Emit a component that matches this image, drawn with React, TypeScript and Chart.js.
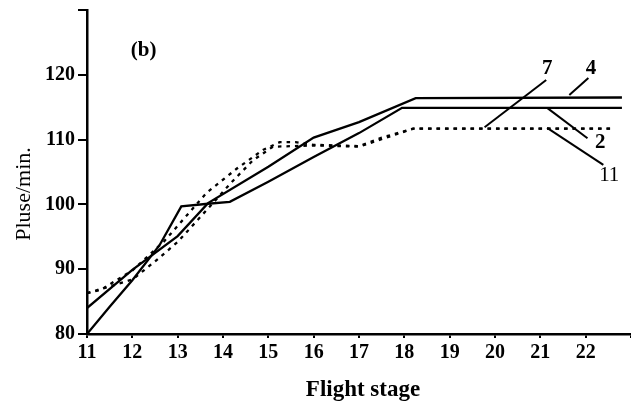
import { useEffect, useRef } from 'react';
import { Chart, registerables } from 'chart.js';

Chart.register(...registerables);

// Flight stages (x) and pulse rates (y) for each subject
const stages4 = [11, 12, 13, 13.67, 15, 16, 17, 18.25, 22.8];
const pulse4 = [84, 89.9, 95.1, 100.2, 105.8, 110.3, 112.7, 116.4, 116.5];

const stages2 = [11, 11.5, 12, 12.6, 13.08, 13.67, 14.15, 15, 16, 17, 17.95, 22.8];
const pulse2 = [80, 84.2, 88.3, 93.7, 99.7, 100.1, 100.4, 103.5, 107.3, 111, 114.9, 114.9];

const stages7 = [11, 12, 12.5, 13, 13.7, 14.2, 14.66, 15.1, 16, 17, 18.2, 22.6];
const pulse7 = [86.3, 88.4, 91.2, 94.2, 99.6, 103.5, 106.8, 108.9, 109.1, 108.9, 111.7, 111.7];

const stages11 = [11, 11.3, 12, 12.7, 13.64, 14.3, 14.88, 15.25, 15.6, 16, 17, 17.5, 18.2, 22.6];
const pulse11 = [86.3, 86.8, 89.8, 94.3, 101.8, 105.5, 108.4, 109.6, 109.6, 109.2, 109, 110.3, 111.7, 111.7];

// Series labels with leader lines (data coordinates)
const seriesNames = ['7', '4', '2', '11'];
const leaderFromX = [19.77, 21.64, 21.15, 21.15];
const leaderFromY = [111.9, 116.9, 114.9, 111.8];
const leaderToX = [21.13, 22.06, 22.04, 22.39];
const leaderToY = [119.2, 119.5, 110.2, 106.1];
const labelX = [21.15, 22.12, 22.32, 22.52];
const labelY = [121.0, 120.9, 109.6, 104.5];

const panelLabel = '(b)';
const panelX = 12.25;
const panelY = 123.8;

const xTitle = 'Flight stage';
const yTitle = 'Pluse/min.';

const xMin = 11;
const xMax = 23;
const yMin = 80;
const yMax = 130;

const pts = (xs: number[], ys: number[]) => xs.map((x, i) => ({ x, y: ys[i] }));

const SERIF = '"Liberation Serif", "DejaVu Serif", serif';

const textPlugin = {
  id: 'texts',
  afterDraw(chart: any) {
    const { ctx, scales, chartArea } = chart;
    const xs = scales.x;
    const ys = scales.y;
    ctx.save();
    ctx.fillStyle = '#000';
    ctx.textAlign = 'center';
    ctx.textBaseline = 'middle';
    ctx.font = `bold 21px ${SERIF}`;
    ctx.fillText(panelLabel, xs.getPixelForValue(panelX), ys.getPixelForValue(panelY));
    seriesNames.forEach((n, i) => {
      ctx.font = i === 3 ? `21px ${SERIF}` : `bold 21px ${SERIF}`;
      ctx.fillText(n, xs.getPixelForValue(labelX[i]), ys.getPixelForValue(labelY[i]));
    });
    ctx.textBaseline = 'alphabetic';
    ctx.font = `bold 23px ${SERIF}`;
    ctx.fillText(xTitle, (chartArea.left + chartArea.right) / 2 + 4, 396);
    ctx.translate(30, 194);
    ctx.rotate(-Math.PI / 2);
    ctx.font = `22px ${SERIF}`;
    ctx.fillText(yTitle, 0, 0);
    ctx.restore();
  },
};

export default function App() {
  const ref = useRef<HTMLCanvasElement | null>(null);
  useEffect(() => {
    document.body.style.margin = '0';
    const canvas = ref.current;
    if (!canvas) return;
    const solid = { borderColor: '#000', borderWidth: 2.3, pointRadius: 0, tension: 0, fill: false };
    const dotted = { ...solid, borderDash: [3.5, 5] };
    const leaders = seriesNames.map((n, i) => ({
      ...solid,
      label: 'leader ' + n,
      borderWidth: 2,
      data: [
        { x: leaderFromX[i], y: leaderFromY[i] },
        { x: leaderToX[i], y: leaderToY[i] },
      ],
    }));
    const chart = new Chart(canvas, {
      type: 'line',
      data: {
        datasets: [
          { ...solid, label: '4', data: pts(stages4, pulse4) },
          { ...solid, label: '2', data: pts(stages2, pulse2) },
          { ...dotted, label: '7', data: pts(stages7, pulse7) },
          { ...dotted, label: '11', data: pts(stages11, pulse11) },
          ...leaders,
        ],
      },
      options: {
        animation: false,
        responsive: false,
        layout: { padding: { top: 10, left: 0, right: 0, bottom: 0 } },
        plugins: { legend: { display: false }, tooltip: { enabled: false } },
        scales: {
          x: {
            type: 'linear',
            min: xMin,
            max: xMax,
            afterFit: (s: any) => {
              s.height = 69;
              s.paddingLeft = 0;
              s.paddingRight = 0;
            },
            border: { color: '#000', width: 2.5 },
            grid: { drawOnChartArea: false, color: '#000', lineWidth: 2, tickLength: 4 },
            ticks: {
              stepSize: 1,
              color: '#000',
              padding: 3,
              maxRotation: 0,
              font: { family: SERIF, size: 20, weight: 'bold' },
              callback: (v: any) => (v >= xMax ? '' : String(v)),
            },
          },
          y: {
            min: yMin,
            max: yMax,
            afterFit: (s: any) => {
              s.width = 87;
              s.paddingTop = 0;
              s.paddingBottom = 0;
            },
            border: { color: '#000', width: 2.5 },
            grid: { drawOnChartArea: false, color: '#000', lineWidth: 2, tickLength: 9 },
            ticks: {
              stepSize: 10,
              color: '#000',
              padding: 3,
              font: { family: SERIF, size: 20, weight: 'bold' },
              callback: (v: any) => (v >= yMax ? '' : String(v)),
            },
          },
        },
      },
      plugins: [textPlugin],
    } as any);
    return () => chart.destroy();
  }, []);
  return <canvas ref={ref} width={631} height={403} style={{ display: 'block' }} />;
}
